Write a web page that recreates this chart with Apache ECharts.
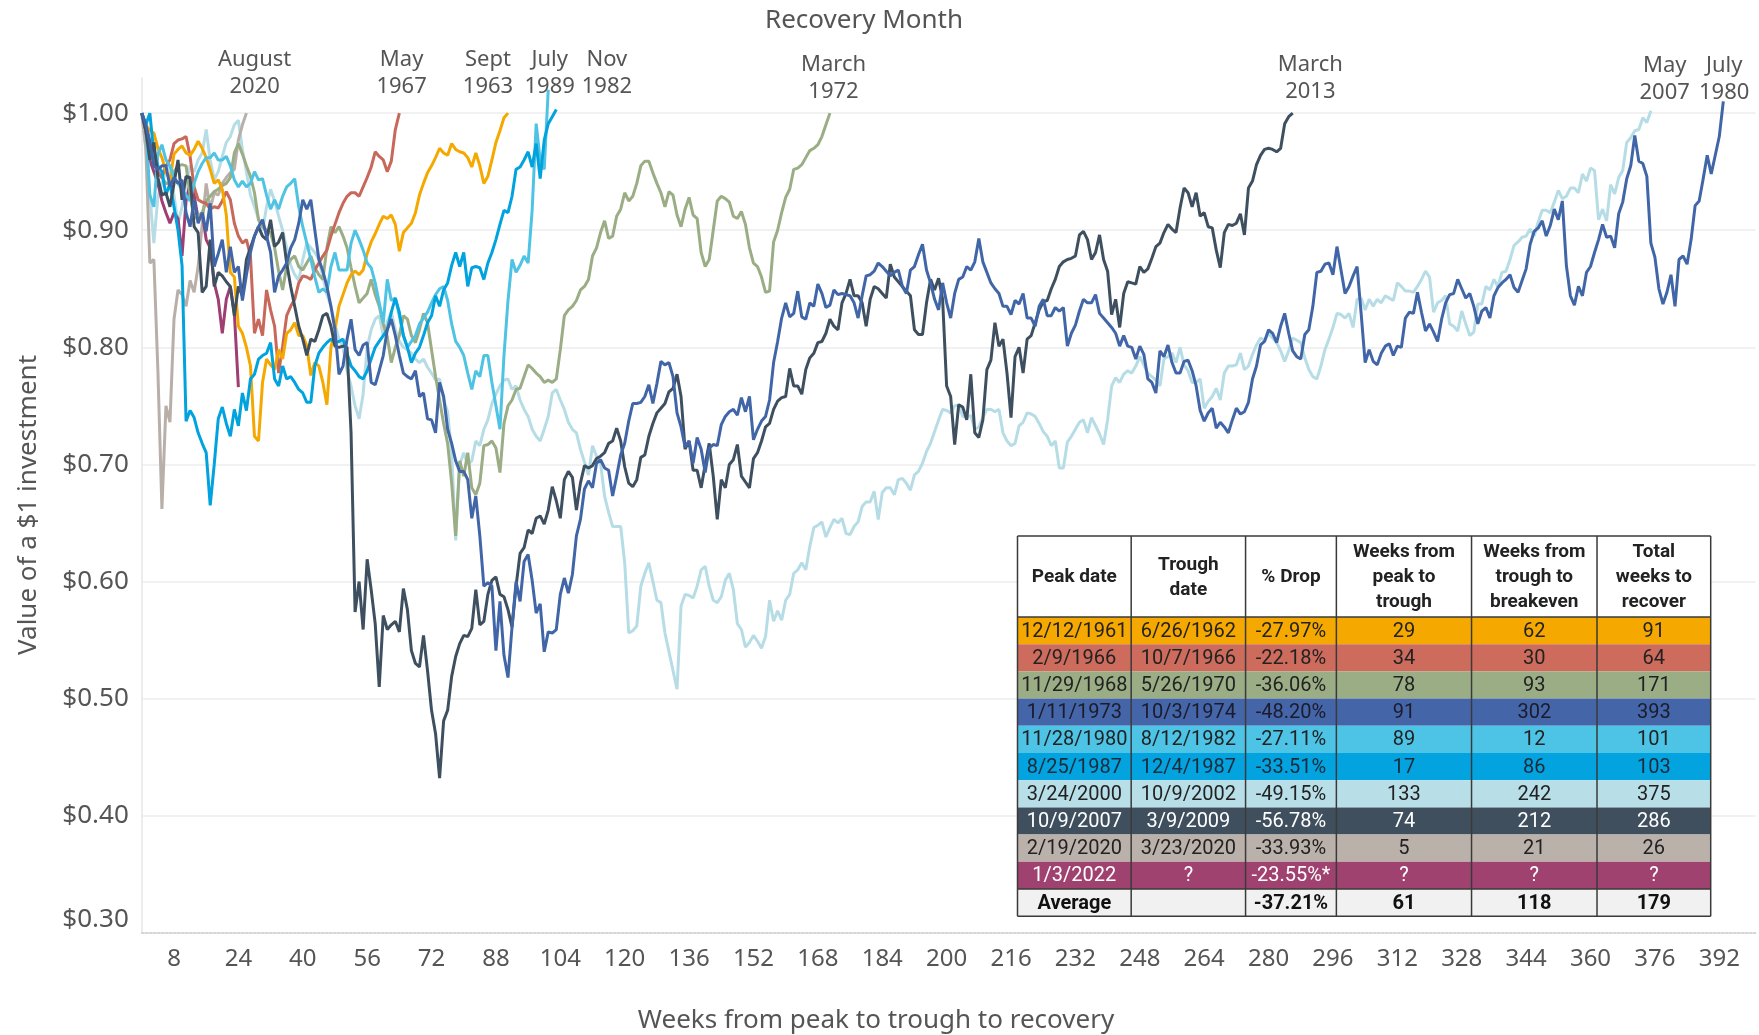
<!DOCTYPE html>
<html>
<head>
<meta charset="utf-8">
<script src="https://cdn.jsdelivr.net/npm/echarts@6/dist/echarts.min.js"></script>
<style>html,body{margin:0;padding:0;background:#fff}#chart{width:1759px;height:1035px}</style>
</head>
<body>
<div id="chart"></div>
<script>
// ---------------- DATA (weekly values, index = week from peak) ----------------
const s1961 = [1.00,0.99,0.985,0.983,0.97,0.962,0.95,0.943,0.965,0.969,
0.972,0.966,0.964,0.969,0.976,0.97,0.962,0.952,0.94,0.943,
0.935,0.913,0.864,0.86,0.818,0.812,0.80,0.784,0.724,0.72,
0.77,0.79,0.785,0.781,0.798,0.79,0.812,0.815,0.821,0.81,
0.81,0.801,0.776,0.787,0.784,0.77,0.751,0.80,0.815,0.835,
0.845,0.855,0.862,0.865,0.862,0.866,0.88,0.89,0.897,0.905,
0.912,0.91,0.913,0.905,0.882,0.898,0.902,0.906,0.915,0.93,
0.94,0.949,0.955,0.962,0.97,0.966,0.964,0.974,0.969,0.967,
0.966,0.962,0.954,0.966,0.955,0.94,0.946,0.96,0.975,0.985,
0.996,1.00];

const s1966 = [1.00,0.99,0.975,0.96,0.95,0.945,0.955,0.96,0.974,0.977,
0.978,0.98,0.963,0.937,0.926,0.924,0.923,0.918,0.92,0.919,
0.925,0.933,0.926,0.906,0.895,0.889,0.892,0.878,0.812,0.824,
0.81,0.849,0.832,0.818,0.778,0.801,0.827,0.835,0.841,0.855,
0.861,0.86,0.858,0.866,0.872,0.878,0.883,0.895,0.905,0.915,
0.923,0.929,0.932,0.932,0.929,0.937,0.945,0.954,0.967,0.963,
0.96,0.95,0.959,0.986,1.00];

const s1968 = [1.00,0.99,0.975,0.96,0.95,0.945,0.94,0.94,0.95,0.955,
0.956,0.955,0.93,0.91,0.912,0.915,0.925,0.929,0.933,0.935,
0.938,0.94,0.945,0.966,0.974,0.965,0.955,0.946,0.932,0.909,
0.903,0.9,0.898,0.885,0.865,0.849,0.869,0.875,0.878,0.869,
0.866,0.872,0.878,0.868,0.862,0.858,0.885,0.903,0.898,0.903,
0.895,0.885,0.868,0.852,0.838,0.842,0.846,0.858,0.845,0.835,
0.82,0.809,0.787,0.80,0.81,0.827,0.824,0.81,0.804,0.815,
0.829,0.821,0.798,0.775,0.755,0.735,0.718,0.684,0.639,0.703,
0.69,0.71,0.68,0.674,0.684,0.716,0.717,0.72,0.714,0.693,
0.735,0.75,0.755,0.764,0.765,0.775,0.785,0.782,0.778,0.775,
0.77,0.772,0.77,0.773,0.798,0.827,0.832,0.835,0.84,0.849,
0.852,0.858,0.878,0.885,0.898,0.908,0.893,0.895,0.912,0.918,
0.932,0.925,0.929,0.94,0.955,0.959,0.959,0.949,0.94,0.932,
0.92,0.933,0.93,0.913,0.903,0.918,0.928,0.913,0.91,0.881,
0.869,0.875,0.9,0.925,0.929,0.927,0.924,0.912,0.91,0.916,
0.905,0.885,0.872,0.869,0.86,0.847,0.848,0.89,0.9,0.915,
0.928,0.935,0.952,0.953,0.956,0.962,0.968,0.97,0.973,0.98,
0.99,1.00];

const s1973 = [1.00,0.99,0.975,0.955,0.952,0.955,0.955,0.937,0.945,0.94,
0.943,0.915,0.903,0.926,0.906,0.915,0.899,0.923,0.869,0.88,
0.892,0.864,0.886,0.864,0.869,0.84,0.862,0.881,0.895,0.903,
0.909,0.895,0.881,0.847,0.861,0.866,0.872,0.885,0.892,0.906,
0.926,0.918,0.926,0.9,0.875,0.865,0.852,0.835,0.815,0.777,
0.784,0.807,0.824,0.798,0.793,0.802,0.804,0.77,0.768,0.78,
0.793,0.815,0.824,0.81,0.793,0.778,0.775,0.773,0.78,0.758,
0.761,0.739,0.738,0.727,0.77,0.758,0.73,0.718,0.703,0.694,
0.694,0.687,0.654,0.673,0.639,0.596,0.599,0.596,0.541,0.583,
0.537,0.518,0.561,0.60,0.583,0.617,0.623,0.601,0.573,0.581,
0.54,0.557,0.556,0.559,0.589,0.603,0.59,0.606,0.639,0.653,
0.679,0.686,0.68,0.701,0.704,0.697,0.695,0.673,0.69,0.708,
0.718,0.737,0.752,0.752,0.753,0.758,0.768,0.752,0.769,0.788,
0.785,0.787,0.775,0.744,0.732,0.715,0.72,0.701,0.723,0.713,
0.693,0.714,0.717,0.716,0.734,0.741,0.745,0.747,0.742,0.757,
0.745,0.758,0.721,0.73,0.737,0.741,0.755,0.787,0.805,0.825,
0.838,0.826,0.829,0.848,0.826,0.824,0.838,0.835,0.854,0.846,
0.834,0.836,0.849,0.845,0.846,0.845,0.844,0.838,0.825,0.844,
0.861,0.862,0.865,0.872,0.869,0.865,0.861,0.864,0.866,0.852,
0.846,0.866,0.869,0.879,0.888,0.866,0.855,0.841,0.832,0.855,
0.838,0.825,0.846,0.858,0.86,0.869,0.866,0.873,0.893,0.873,
0.864,0.855,0.85,0.846,0.835,0.835,0.828,0.84,0.837,0.846,
0.825,0.825,0.818,0.835,0.841,0.827,0.827,0.834,0.831,0.834,
0.801,0.812,0.819,0.831,0.841,0.838,0.838,0.845,0.829,0.825,
0.821,0.817,0.812,0.801,0.81,0.801,0.80,0.79,0.801,0.794,
0.773,0.77,0.761,0.797,0.792,0.802,0.787,0.778,0.778,0.788,
0.789,0.78,0.767,0.746,0.737,0.744,0.748,0.731,0.736,0.732,
0.727,0.738,0.748,0.743,0.745,0.753,0.773,0.784,0.802,0.805,
0.815,0.812,0.804,0.818,0.829,0.812,0.797,0.792,0.79,0.811,
0.815,0.835,0.864,0.865,0.871,0.872,0.862,0.886,0.866,0.846,
0.852,0.861,0.869,0.829,0.787,0.798,0.788,0.785,0.795,0.801,
0.803,0.793,0.801,0.80,0.825,0.83,0.829,0.847,0.83,0.814,
0.82,0.813,0.805,0.824,0.838,0.845,0.846,0.858,0.85,0.842,
0.846,0.835,0.82,0.831,0.834,0.825,0.844,0.851,0.855,0.858,
0.862,0.851,0.847,0.857,0.867,0.888,0.899,0.902,0.908,0.895,
0.904,0.918,0.909,0.925,0.87,0.844,0.836,0.852,0.844,0.864,
0.869,0.881,0.892,0.905,0.894,0.895,0.885,0.914,0.924,0.944,
0.955,0.981,0.959,0.957,0.946,0.889,0.877,0.85,0.837,0.847,
0.862,0.835,0.875,0.878,0.871,0.892,0.921,0.925,0.944,0.964,
0.948,0.964,0.98,1.01];

const s1980 = [1.00,0.99,0.93,0.92,0.965,0.973,0.96,0.955,0.945,0.94,
0.935,0.93,0.925,0.94,0.95,0.957,0.962,0.962,0.966,0.96,
0.96,0.963,0.955,0.943,0.937,0.942,0.937,0.94,0.95,0.943,
0.944,0.93,0.918,0.926,0.918,0.929,0.937,0.94,0.944,0.92,
0.903,0.889,0.875,0.86,0.847,0.85,0.847,0.869,0.881,0.866,
0.866,0.866,0.889,0.9,0.892,0.883,0.872,0.868,0.855,0.838,
0.821,0.858,0.84,0.842,0.827,0.81,0.80,0.805,0.81,0.82,
0.825,0.83,0.838,0.845,0.85,0.852,0.84,0.82,0.805,0.80,
0.793,0.778,0.764,0.78,0.775,0.793,0.793,0.77,0.75,0.73,
0.793,0.84,0.875,0.864,0.87,0.878,0.872,0.917,0.991,0.96,
0.952,1.02];

const s1987 = [1.00,0.99,1.00,0.965,0.955,0.95,0.93,0.94,0.92,0.90,
0.87,0.737,0.746,0.74,0.727,0.718,0.71,0.665,0.70,0.739,
0.749,0.735,0.724,0.747,0.733,0.761,0.746,0.773,0.777,0.79,
0.793,0.795,0.804,0.773,0.767,0.784,0.773,0.775,0.77,0.764,
0.761,0.753,0.753,0.784,0.795,0.80,0.804,0.807,0.804,0.805,
0.807,0.795,0.784,0.78,0.775,0.773,0.78,0.79,0.80,0.805,
0.81,0.815,0.83,0.842,0.83,0.81,0.80,0.787,0.795,0.80,
0.81,0.821,0.827,0.844,0.835,0.849,0.855,0.87,0.881,0.869,
0.881,0.852,0.868,0.869,0.868,0.858,0.872,0.881,0.892,0.905,
0.917,0.915,0.929,0.952,0.954,0.96,0.967,0.954,0.974,0.944,
0.977,0.991,0.997,1.003];

const s2000 = [1.00,0.97,0.93,0.889,0.929,0.94,0.95,0.955,0.93,0.906,
0.92,0.94,0.955,0.95,0.96,0.966,0.986,0.96,0.943,0.95,
0.963,0.975,0.98,0.99,0.994,0.969,0.95,0.93,0.92,0.91,
0.90,0.92,0.935,0.925,0.912,0.90,0.885,0.87,0.862,0.857,
0.875,0.889,0.885,0.881,0.875,0.86,0.845,0.835,0.82,0.807,
0.80,0.78,0.767,0.75,0.739,0.76,0.80,0.815,0.824,0.827,
0.81,0.822,0.83,0.815,0.805,0.80,0.798,0.795,0.79,0.787,
0.79,0.783,0.778,0.772,0.773,0.755,0.745,0.71,0.635,0.70,
0.71,0.70,0.703,0.72,0.716,0.73,0.738,0.752,0.76,0.767,
0.772,0.773,0.764,0.767,0.755,0.747,0.741,0.73,0.724,0.72,
0.73,0.741,0.761,0.764,0.755,0.747,0.736,0.73,0.727,0.713,
0.702,0.691,0.716,0.707,0.701,0.673,0.659,0.647,0.647,0.647,
0.616,0.556,0.558,0.562,0.596,0.607,0.616,0.60,0.584,0.582,
0.556,0.54,0.524,0.508,0.579,0.589,0.588,0.586,0.596,0.61,
0.613,0.596,0.584,0.582,0.587,0.601,0.607,0.593,0.564,0.559,
0.544,0.548,0.554,0.549,0.543,0.553,0.584,0.566,0.575,0.567,
0.584,0.589,0.607,0.61,0.616,0.61,0.63,0.646,0.648,0.651,
0.638,0.646,0.653,0.65,0.654,0.641,0.64,0.647,0.651,0.664,
0.668,0.668,0.677,0.653,0.676,0.68,0.68,0.674,0.687,0.688,
0.684,0.678,0.691,0.694,0.701,0.711,0.718,0.728,0.738,0.747,
0.746,0.744,0.75,0.751,0.741,0.74,0.742,0.73,0.732,0.74,
0.747,0.747,0.745,0.747,0.727,0.72,0.716,0.718,0.733,0.736,
0.744,0.743,0.741,0.735,0.728,0.724,0.716,0.72,0.697,0.697,
0.719,0.724,0.73,0.736,0.738,0.727,0.74,0.733,0.726,0.717,
0.738,0.767,0.774,0.77,0.777,0.78,0.778,0.784,0.792,0.785,
0.778,0.775,0.772,0.767,0.79,0.792,0.795,0.787,0.80,0.785,
0.78,0.77,0.77,0.773,0.748,0.754,0.758,0.765,0.755,0.778,
0.784,0.784,0.785,0.795,0.781,0.784,0.794,0.802,0.808,0.806,
0.812,0.808,0.804,0.797,0.788,0.797,0.808,0.806,0.804,0.791,
0.781,0.775,0.773,0.784,0.798,0.807,0.817,0.829,0.828,0.825,
0.829,0.817,0.841,0.842,0.832,0.841,0.835,0.841,0.838,0.844,
0.842,0.84,0.855,0.852,0.848,0.848,0.847,0.852,0.858,0.865,
0.86,0.83,0.838,0.84,0.844,0.82,0.818,0.814,0.831,0.82,
0.81,0.813,0.837,0.837,0.852,0.849,0.858,0.852,0.864,0.865,
0.875,0.887,0.89,0.894,0.895,0.901,0.895,0.907,0.917,0.917,
0.915,0.924,0.934,0.927,0.929,0.936,0.936,0.932,0.948,0.942,
0.953,0.951,0.909,0.918,0.908,0.939,0.931,0.945,0.951,0.975,
0.979,0.985,0.986,0.996,0.992,1.002];

const s2007 = [1.00,0.985,0.96,0.975,0.945,0.93,0.932,0.92,0.94,0.96,
0.926,0.946,0.945,0.903,0.898,0.847,0.852,0.892,0.852,0.864,
0.861,0.856,0.852,0.827,0.852,0.844,0.875,0.885,0.895,0.903,
0.895,0.892,0.909,0.886,0.89,0.898,0.872,0.852,0.835,0.818,
0.807,0.793,0.807,0.805,0.815,0.827,0.829,0.818,0.801,0.80,
0.801,0.80,0.727,0.574,0.60,0.559,0.619,0.593,0.564,0.51,
0.571,0.559,0.563,0.566,0.557,0.594,0.576,0.541,0.53,0.527,
0.554,0.524,0.49,0.47,0.432,0.481,0.49,0.519,0.536,0.547,
0.554,0.553,0.56,0.593,0.563,0.566,0.589,0.601,0.604,0.589,
0.587,0.576,0.561,0.596,0.624,0.629,0.644,0.641,0.654,0.656,
0.649,0.661,0.681,0.669,0.654,0.687,0.694,0.689,0.661,0.684,
0.699,0.697,0.699,0.705,0.707,0.71,0.718,0.72,0.731,0.72,
0.698,0.684,0.681,0.687,0.706,0.708,0.724,0.735,0.744,0.748,
0.752,0.762,0.765,0.777,0.758,0.713,0.72,0.695,0.695,0.68,
0.70,0.718,0.69,0.653,0.687,0.68,0.70,0.704,0.717,0.69,
0.685,0.68,0.705,0.71,0.72,0.732,0.735,0.747,0.754,0.757,
0.758,0.782,0.767,0.767,0.76,0.781,0.791,0.795,0.804,0.805,
0.812,0.824,0.818,0.815,0.838,0.846,0.858,0.844,0.844,0.838,
0.818,0.841,0.852,0.85,0.846,0.842,0.871,0.86,0.856,0.852,
0.848,0.844,0.815,0.811,0.811,0.838,0.858,0.849,0.859,0.841,
0.767,0.758,0.717,0.751,0.749,0.738,0.777,0.727,0.723,0.738,
0.781,0.789,0.821,0.801,0.807,0.778,0.74,0.792,0.80,0.778,
0.807,0.81,0.821,0.832,0.839,0.84,0.85,0.858,0.869,0.873,
0.875,0.876,0.878,0.896,0.899,0.892,0.875,0.881,0.896,0.875,
0.865,0.828,0.841,0.817,0.846,0.856,0.855,0.854,0.869,0.864,
0.867,0.876,0.886,0.889,0.898,0.905,0.901,0.898,0.919,0.936,
0.932,0.92,0.932,0.912,0.915,0.903,0.902,0.883,0.868,0.898,
0.905,0.904,0.906,0.914,0.896,0.936,0.942,0.956,0.964,0.969,
0.97,0.969,0.967,0.97,0.991,0.997,1.00];

const s2020 = [1.00,0.97,0.872,0.875,0.78,0.662,0.75,0.736,0.824,0.849,
0.845,0.835,0.857,0.847,0.869,0.905,0.94,0.918,0.932,0.93,
0.94,0.945,0.949,0.952,0.977,0.99,1.00];

const s2022 = [1.00,0.985,0.96,0.95,0.94,0.925,0.915,0.906,0.915,0.91,
0.878,0.925,0.94,0.93,0.91,0.915,0.892,0.885,0.855,0.841,
0.812,0.841,0.852,0.829,0.766];

// x tick labels
const weekTicks = [8,24,40,56,72,88,104,120,136,152,168,184,200,216,232,248,264,280,296,312,328,344,360,376,392];

// recovery-month annotation labels
const recoveryLabels = ['August\n2020','May\n1967','Sept\n1963','July\n1989','Nov\n1982','March\n1972','March\n2013','May\n2007','July\n1980'];

// table data
const tableHeaders = ['Peak date','Trough\ndate','% Drop','Weeks from\npeak to\ntrough','Weeks from\ntrough to\nbreakeven','Total\nweeks to\nrecover'];
const peakDates   = ['12/12/1961','2/9/1966','11/29/1968','1/11/1973','11/28/1980','8/25/1987','3/24/2000','10/9/2007','2/19/2020','1/3/2022'];
const troughDates = ['6/26/1962','10/7/1966','5/26/1970','10/3/1974','8/12/1982','12/4/1987','10/9/2002','3/9/2009','3/23/2020','?'];
const pctDrops    = ['-27.97%','-22.18%','-36.06%','-48.20%','-27.11%','-33.51%','-49.15%','-56.78%','-33.93%','-23.55%*'];
const weeksDown   = ['29','34','78','91','89','17','133','74','5','?'];
const weeksUp     = ['62','30','93','302','12','86','242','212','21','?'];
const weeksTotal  = ['91','64','171','393','101','103','375','286','26','?'];
const averageRow  = ['Average','','-37.21%','61','118','179'];

// ---------------- STYLE ----------------
const seriesDefs = [
  {name:'3/24/2000', data:s2000, color:'#b6dde6'},
  {name:'2/19/2020', data:s2020, color:'#b8afa9'},
  {name:'1/3/2022',  data:s2022, color:'#9e3e72'},
  {name:'11/29/1968',data:s1968, color:'#9aad84'},
  {name:'2/9/1966',  data:s1966, color:'#c8685b'},
  {name:'12/12/1961',data:s1961, color:'#f5a800'},
  {name:'11/28/1980',data:s1980, color:'#4fc3e3'},
  {name:'8/25/1987', data:s1987, color:'#00a3de'},
  {name:'10/9/2007', data:s2007, color:'#3e5060'},
  {name:'1/11/1973', data:s1973, color:'#4166a8'}
];
const rowFills = ['#f5a800','#cd6b5d','#9aad84','#4565a9','#4dc4e6','#03a3df','#b8dfe8','#3f4f5e','#bbb1ab','#a0426f'];
const rowText  = ['#222','#222','#222','#1b1b2b','#222','#1b2b3b','#222','#ffffff','#222','#ffffff'];

const labelPos = [[254.6,59],[401.6,59],[488,59],[549.7,59],[606.9,59],[833.5,64],[1310.3,64],[1664.7,65],[1724.2,65]];

const FONT = '"Noto Sans", Roboto, sans-serif';
const TXT = '#555555';

const chart = echarts.init(document.getElementById('chart'), null, {renderer:'canvas'});

const graphics = [];
graphics.push({type:'text', x:864, y:21, z:100, style:{text:'Recovery Month', font:'26px '+FONT, fill:TXT, align:'center', verticalAlign:'middle'}});
graphics.push({type:'text', x:29, y:505, rotation:Math.PI/2, z:100, style:{text:'Value of a $1 investment', font:'26px '+FONT, fill:TXT, align:'center', verticalAlign:'middle'}});
graphics.push({type:'text', x:876, y:1021, z:100, style:{text:'Weeks from peak to trough to recovery', font:'26px '+FONT, fill:TXT, align:'center', verticalAlign:'middle'}});
recoveryLabels.forEach((t,i)=>{
  graphics.push({type:'text', x:labelPos[i][0], y:labelPos[i][1]-13, z:100,
    style:{text:t, font:'22px '+FONT, fill:TXT, align:'center', verticalAlign:'top', lineHeight:27}});
});

// table
const T = {x:1017.5, y:536, w:693.2, headerH:81, rowH:27.2};
const colFrac = [0,0.164,0.329,0.460,0.655,0.836,1];
const edges = colFrac.map(f=>T.x+f*T.w);
const rows = peakDates.map((p,i)=>[p,troughDates[i],pctDrops[i],weeksDown[i],weeksUp[i],weeksTotal[i]]);
rows.push(averageRow);
const tableH = T.headerH + rows.length*T.rowH;
graphics.push({type:'rect', z:100, shape:{x:T.x,y:T.y,width:T.w,height:tableH}, style:{fill:'#ffffff'}});
tableHeaders.forEach((h,j)=>{
  graphics.push({type:'text', z:102, x:(edges[j]+edges[j+1])/2, y:T.y+T.headerH/2+1,
    style:{text:h, font:'bold 19px Roboto, sans-serif', fill:'#222', align:'center', verticalAlign:'middle', lineHeight:25}});
});
rows.forEach((r,i)=>{
  const y = T.y + T.headerH + i*T.rowH;
  const isAvg = i===rows.length-1;
  graphics.push({type:'rect', z:101, shape:{x:T.x,y:y,width:T.w,height:T.rowH}, style:{fill: isAvg ? '#f1f1f1' : rowFills[i]}});
  r.forEach((c,j)=>{
    graphics.push({type:'text', z:102, x:(edges[j]+edges[j+1])/2, y:y+T.rowH/2+1,
      style:{text:c, font:(isAvg?'bold ':'')+'20px Roboto, sans-serif', fill: isAvg ? '#111' : rowText[i], align:'center', verticalAlign:'middle'}});
  });
});
// borders
edges.forEach(x=>{
  graphics.push({type:'line', z:103, shape:{x1:x,y1:T.y,x2:x,y2:T.y+tableH}, style:{stroke:'#3a3a3a', lineWidth:1.5}});
});
[T.y, T.y+T.headerH, T.y+T.headerH+(rows.length-1)*T.rowH, T.y+tableH].forEach(y=>{
  graphics.push({type:'line', z:103, shape:{x1:T.x,y1:y,x2:T.x+T.w,y2:y}, style:{stroke:'#3a3a3a', lineWidth:1.5}});
});

const option = {
  animation:false,
  backgroundColor:'#ffffff',
  grid:{left:141.8, right:3.5, top:78, bottom:102.2, containLabel:false},
  xAxis:{
    type:'value', min:0, max:401,
    axisLine:{show:true, lineStyle:{color:'#d6d6d6', width:2, type:'dotted'}},
    axisTick:{show:false},
    splitLine:{show:false},
    axisLabel:{customValues:weekTicks, margin:14, color:TXT, fontSize:24, fontFamily:FONT}
  },
  yAxis:{
    type:'value', min:0.3, max:1.03, interval:0.1,
    axisLine:{show:true, lineStyle:{color:'#e6e6e6', width:1.5}},
    axisTick:{show:false},
    splitLine:{show:true, showMaxLine:false, lineStyle:{color:'#ececec', width:1.5}},
    axisLabel:{showMaxLabel:false, margin:13, color:TXT, fontSize:26, fontFamily:FONT,
      verticalAlignMinLabel:'bottom',
      formatter:v=>'$'+v.toFixed(2)}
  },
  series: seriesDefs.map(s=>({
    type:'line', name:s.name, showSymbol:false, symbol:'none', smooth:false,
    data:s.data.map((v,i)=>[i,v]),
    lineStyle:{color:s.color, width:3},
    itemStyle:{color:s.color},
    emphasis:{disabled:true}
  })),
  graphic: graphics
};
chart.setOption(option);
</script>
</body>
</html>
